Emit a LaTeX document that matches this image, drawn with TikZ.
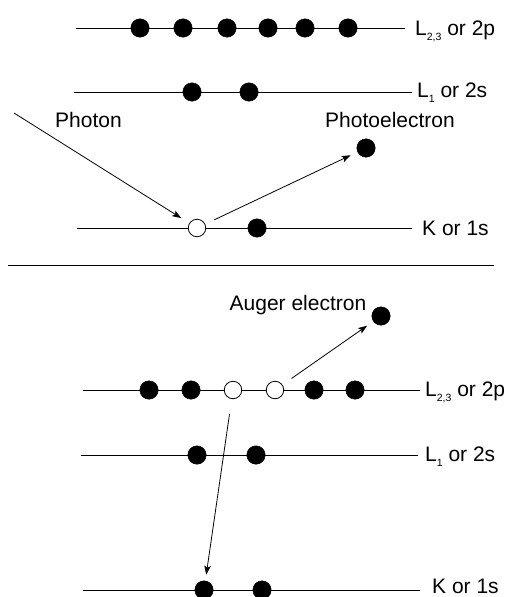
\documentclass[tikz,border=0pt]{standalone}
\usepackage{fontspec}
\setmainfont{Liberation Sans}
\usetikzlibrary{arrows.meta}
\newcommand{\subsc}[1]{\raisebox{-4.5pt}{\fontsize{10.5}{10.5}\selectfont #1}}
\tikzset{
  lvl/.style={line width=0.8pt},
  full/.style={circle, fill=black, draw=black, inner sep=0pt, minimum size=18.5pt},
  hole/.style={circle, fill=white, draw=black, line width=0.8pt, inner sep=0pt, minimum size=17.5pt},
  lbl/.style={font=\fontsize{21}{23}\selectfont, inner sep=0pt, anchor=base west},
  txt/.style={font=\fontsize{21}{23}\selectfont, inner sep=0pt, anchor=base},
  arr/.style={line width=0.8pt, -{Stealth[length=9pt,width=6.5pt,inset=2pt]}},
  sep/.style={line width=1.6pt}
}
\begin{document}
\begin{tikzpicture}[x=1pt,y=-1pt]
\useasboundingbox (0,0) rectangle (509,597);
% ---------- top panel ----------
% L2,3
\coordinate (t23a) at (76,28); \coordinate (t23b) at (405,28);
\draw[lvl] (t23a) -- (t23b);
\node[lbl] (t23l) at (415,35.5) {L\subsc{2,3} or 2p};
\foreach \x [count=\i] in {140,183,227,268,305,348} \node[full] (t23e\i) at (\x,28) {};
% L1
\coordinate (t1a) at (74,92); \coordinate (t1b) at (412,92);
\draw[lvl] (t1a) -- (t1b);
\node[lbl] (t1l) at (417,97.5) {L\subsc{1} or 2s};
\node[full] (t1e1) at (192,92) {};
\node[full] (t1e2) at (249,92) {};
% K
\coordinate (tka) at (77,228); \coordinate (tkb) at (412,228);
\draw[lvl] (tka) -- (tkb);
\node[lbl] (tkl) at (422,235.5) {K or 1s};
\node[hole] (tkh) at (197,228) {};
\node[full] (tke) at (257,228) {};
% photon and photoelectron
\node[txt] (photon) at (88.5,127.5) {Photon};
\node[txt] (pel) at (390,127.5) {Photoelectron};
\node[full] (pe) at (366,148) {};
\coordinate (ph0) at (14,113);
\draw[arr, shorten >=9.5pt] (ph0) -- (tkh);
\draw[arr, shorten <=10pt, shorten >=7.5pt] (tkh) -- (pe);
% separator
\coordinate (s1) at (8,265.5); \coordinate (s2) at (494,265.5);
\draw[sep] (s1) -- (s2);
% ---------- bottom panel ----------
% L2,3
\coordinate (b23a) at (83,390); \coordinate (b23b) at (420,390);
\draw[lvl] (b23a) -- (b23b);
\node[lbl] (b23l) at (425,396.5) {L\subsc{2,3} or 2p};
\node[full] (b23e1) at (149,390) {};
\node[full] (b23e2) at (191,390) {};
\node[hole] (b23h1) at (233,390) {};
\node[hole] (b23h2) at (275,390) {};
\node[full] (b23e3) at (314,390) {};
\node[full] (b23e4) at (355,390) {};
% L1
\coordinate (b1a) at (81,455); \coordinate (b1b) at (418,455);
\draw[lvl] (b1a) -- (b1b);
\node[lbl] (b1l) at (425,461.5) {L\subsc{1} or 2s};
\node[full] (b1e1) at (197,455) {};
\node[full] (b1e2) at (256,455) {};
% K
\coordinate (bka) at (83,590); \coordinate (bkb) at (420,590);
\draw[lvl] (bka) -- (bkb);
\node[lbl] (bkl) at (432,593) {K or 1s};
\node[full] (bke1) at (204,590) {};
\node[full] (bke2) at (262,590) {};
% Auger
\node[txt] (auglbl) at (298,310.5) {Auger electron};
\node[full] (aug) at (381,316) {};
\draw[arr, shorten <=11pt, shorten >=7.5pt] (b23h2) -- (aug);
\draw[arr, shorten <=15pt, shorten >=6pt] (b23h1) -- (bke1);
\end{tikzpicture}
\end{document}
